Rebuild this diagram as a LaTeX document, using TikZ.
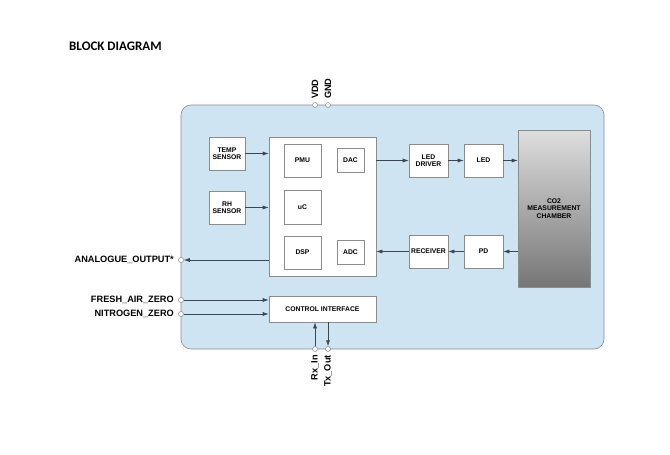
\documentclass[tikz,border=0pt]{standalone}
\usepackage{fontspec}
\setmainfont{Liberation Sans}
\newfontfamily\titlefont{Carlito}
\usetikzlibrary{arrows.meta}
\definecolor{panelblue}{RGB}{206,228,243}
\definecolor{edgegray}{RGB}{140,140,140}
\definecolor{linegray}{RGB}{60,70,80}
\begin{document}
\begin{tikzpicture}[x=1pt,y=-1pt,
  blk/.style={draw=edgegray,fill=white,line width=0.6pt,inner sep=0pt,align=center,font=\fontsize{6.8}{7.6}\selectfont\bfseries},
  pin/.style={circle,draw=edgegray,fill=white,line width=0.5pt,inner sep=0pt,minimum size=5pt},
  pinlbl/.style={font=\fontsize{9.2}{10}\selectfont\bfseries,inner sep=0pt},
  conn/.style={draw=linegray,line width=0.6pt,-{Latex[length=6pt,width=4pt]}},
  plain/.style={draw=linegray,line width=0.6pt}
]
\useasboundingbox (0,0) rectangle (670,455);
\node[anchor=west,inner sep=0pt,font=\titlefont\fontsize{13}{15}\selectfont\bfseries] (title) at (69,46) {BLOCK DIAGRAM};
% panel
\node[draw=edgegray,fill=panelblue,line width=0.6pt,rounded corners=10pt,minimum width=423pt,minimum height=244pt,inner sep=0pt] (panel) at (392.5,227) {};
% boxes
\node[blk,minimum width=36pt,minimum height=33pt] (temp) at (227,153.5) {TEMP\\SENSOR};
\node[blk,minimum width=36pt,minimum height=33pt] (rh) at (227,207.5) {RH\\SENSOR};
\node[blk,minimum width=107pt,minimum height=139pt] (main) at (322.5,206.5) {};
\node[blk,minimum width=37pt,minimum height=33pt] (pmu) at (302.5,160.5) {PMU};
\node[blk,minimum width=27pt,minimum height=24pt] (dac) at (350.5,160) {DAC};
\node[blk,minimum width=37pt,minimum height=34pt] (uc) at (302.5,207) {uC};
\node[blk,minimum width=37pt,minimum height=33pt] (dsp) at (302.5,252.5) {DSP};
\node[blk,minimum width=27pt,minimum height=24pt] (adc) at (350.5,252) {ADC};
\node[blk,minimum width=39pt,minimum height=33pt] (ledd) at (428.5,160.5) {LED\\DRIVER};
\node[blk,minimum width=39pt,minimum height=33pt] (led) at (483.5,160.5) {LED};
\node[blk,minimum width=39pt,minimum height=33pt] (rcv) at (428.5,251.5) {RECEIVER};
\node[blk,minimum width=39pt,minimum height=33pt] (pd) at (483.5,251.5) {PD};
\node[blk,fill=none,top color={rgb,255:red,222;green,222;blue,222},bottom color={rgb,255:red,118;green,118;blue,118},minimum width=72pt,minimum height=157pt] (co2) at (554,208.5) {CO2\\MEASUREMENT\\CHAMBER};
\node[blk,minimum width=107pt,minimum height=26pt] (ctrl) at (322.5,309) {CONTROL INTERFACE};
% pins
\node[pin] (vdd) at (315,105) {};
\node[pin] (gnd) at (328,105) {};
\node[pinlbl,rotate=90,anchor=west] (vddl) at (315,99) {VDD};
\node[pinlbl,rotate=90,anchor=west] (gndl) at (328,99) {GND};
\node[pin] (aout) at (181,260) {};
\node[pin] (fresh) at (181,300) {};
\node[pin] (nitro) at (181,314) {};
\node[pinlbl,anchor=east] (aoutl) at (174,260) {ANALOGUE\_OUTPUT*};
\node[pinlbl,anchor=east] (freshl) at (174,300) {FRESH\_AIR\_ZERO};
\node[pinlbl,anchor=east] (nitrol) at (174,314) {NITROGEN\_ZERO};
\node[pin] (rx) at (315,349) {};
\node[pin] (tx) at (328,349) {};
\node[pinlbl,rotate=90,anchor=east] (rxl) at (315,355) {Rx\_In};
\node[pinlbl,rotate=90,anchor=east] (txl) at (328,355) {Tx\_Out};
% connectors
\draw[conn] (temp.east) -- (temp.east -| main.west);
\draw[conn] (rh.east) -- (rh.east -| main.west);
\draw[conn] (main.east |- ledd.west) -- (ledd.west);
\draw[conn] (ledd) -- (led);
\draw[conn] (led.east) -- (led.east -| co2.west);
\draw[conn] (co2.west |- pd.east) -- (pd.east);
\draw[conn] (pd) -- (rcv);
\draw[conn] (rcv.west) -- (rcv.west -| main.east);
\draw[conn] (main.west |- aout) -- (aout.east);
\draw[conn] (fresh.east) -- (fresh -| ctrl.west);
\draw[conn] (nitro.east) -- (nitro -| ctrl.west);
\draw[conn] (rx.north) -- (rx |- ctrl.south);
\draw[conn] (tx |- ctrl.south) -- (tx.north);
\end{tikzpicture}
\end{document}
